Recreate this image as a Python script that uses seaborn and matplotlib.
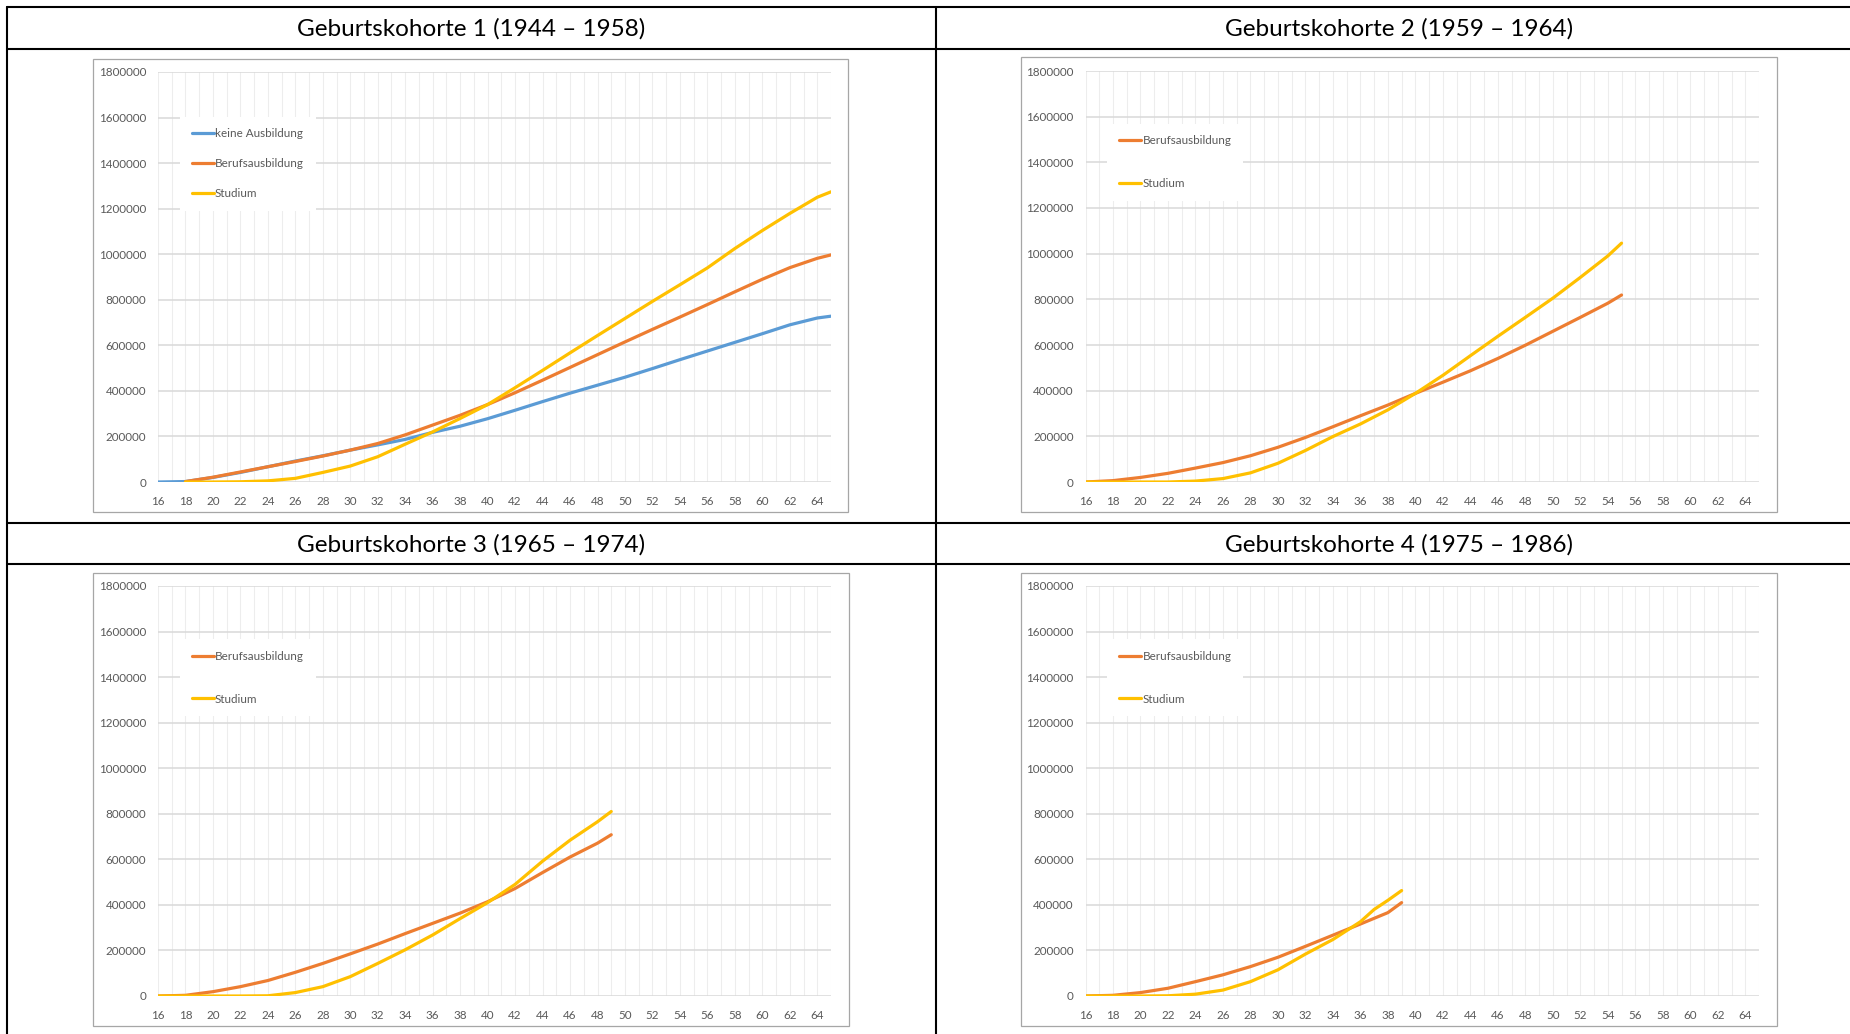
import numpy as np
import matplotlib.pyplot as plt
import matplotlib.ticker as mticker
from matplotlib.lines import Line2D
from matplotlib.patches import Rectangle
import seaborn as sns

# --- Daten ---
# Geburtskohorte 1 (1944 - 1958)
k1_ages_keine = [16, 18, 20, 22, 24, 26, 28, 30, 32, 34, 36, 38, 40, 42, 44, 46, 48, 50, 52, 54, 56, 58, 60, 62, 64, 65]
k1_keine = [0, 2000, 20000, 42000, 67000, 92000, 115000, 140000, 163000, 187000, 218000, 245000, 278000,
            315000, 353000, 390000, 425000, 460000, 498000, 537000, 575000, 613000, 651000, 690000, 720000, 728000]
k1_ages = [18, 20, 22, 24, 26, 28, 30, 32, 34, 36, 38, 40, 42, 44, 46, 48, 50, 52, 54, 56, 58, 60, 62, 64, 65]
k1_beruf = [2000, 21000, 44000, 67000, 90000, 114000, 140000, 169000, 207000, 250000, 293000, 340000, 392000,
            447000, 503000, 559000, 615000, 670000, 724000, 779000, 835000, 890000, 941000, 982000, 997000]
k1_studium = [0, 0, 1000, 5000, 16000, 42000, 70000, 111000, 166000, 220000, 279000, 340000, 414000,
              490000, 567000, 643000, 718000, 793000, 866000, 940000, 1025000, 1104000, 1179000, 1250000, 1274000]

# Geburtskohorte 2 (1959 - 1964)
k2_ages = [16, 18, 20, 22, 24, 26, 28, 30, 32, 34, 36, 38, 40, 42, 44, 46, 48, 50, 52, 54, 55]
k2_beruf = [0, 6000, 20000, 38000, 61000, 85000, 115000, 152000, 195000, 242000, 290000, 337000, 388000,
            437000, 487000, 541000, 599000, 660000, 721000, 783000, 819000]
k2_studium = [0, 0, 0, 0, 4000, 15000, 40000, 82000, 138000, 199000, 254000, 316000, 388000,
              467000, 553000, 638000, 721000, 805000, 896000, 990000, 1046000]

# Geburtskohorte 3 (1965 - 1974)
k3_ages = [16, 18, 20, 22, 24, 26, 28, 30, 32, 34, 36, 38, 40, 42, 44, 46, 48, 49]
k3_beruf = [0, 3000, 19000, 41000, 68000, 104000, 143000, 185000, 228000, 274000, 319000, 364000, 414000,
            472000, 542000, 610000, 671000, 708000]
k3_studium = [0, 0, 0, 0, 1000, 15000, 41000, 85000, 143000, 203000, 268000, 340000, 410000,
              490000, 592000, 684000, 765000, 810000]

# Geburtskohorte 4 (1975 - 1986)
k4_ages_beruf = [16, 18, 20, 22, 24, 26, 28, 30, 32, 34, 36, 38, 39]
k4_beruf = [0, 3000, 15000, 34000, 63000, 93000, 129000, 170000, 218000, 267000, 316000, 366000, 410000]
k4_ages_studium = [16, 18, 20, 22, 24, 26, 28, 30, 32, 34, 36, 37, 38, 39]
k4_studium = [0, 0, 0, 1000, 8000, 26000, 63000, 115000, 184000, 248000, 326000, 380000, 420000, 463000]

titles = ["Geburtskohorte 1 (1944 \u2013 1958)", "Geburtskohorte 2 (1959 \u2013 1964)",
          "Geburtskohorte 3 (1965 \u2013 1974)", "Geburtskohorte 4 (1975 \u2013 1986)"]

farben = {"keine Ausbildung": "#5B9BD5", "Berufsausbildung": "#ED7D31", "Studium": "#FFC000"}

sns.set_style("white")
plt.rcParams['font.family'] = ['Lato', 'DejaVu Sans']

W, H = 1850, 1034
fig = plt.figure(figsize=(W / 100, H / 100), dpi=100)


def fig_rect(x0, y0, x1, y1):
    return [x0 / W, 1 - y1 / H, (x1 - x0) / W, (y1 - y0) / H]


panels = [
    dict(title=titles[0], tc=(471, 29), frame=(93, 59, 848, 512), box=(158, 72, 831, 482),
         series=[("keine Ausbildung", k1_ages_keine, k1_keine),
                 ("Berufsausbildung", k1_ages, k1_beruf),
                 ("Studium", k1_ages, k1_studium)],
         leg_y=0.905, spacing=1.62),
    dict(title=titles[1], tc=(1399, 29), frame=(1021, 57, 1777, 512), box=(1085.5, 71, 1759, 482),
         series=[("Berufsausbildung", k2_ages, k2_beruf),
                 ("Studium", k2_ages, k2_studium)],
         leg_y=0.886, spacing=2.7),
    dict(title=titles[2], tc=(471, 545), frame=(93, 573, 849, 1026), box=(158, 586, 831, 996),
         series=[("Berufsausbildung", k3_ages, k3_beruf),
                 ("Studium", k3_ages, k3_studium)],
         leg_y=0.884, spacing=2.7),
    dict(title=titles[3], tc=(1399, 545), frame=(1021, 573, 1777, 1026), box=(1085.5, 586, 1759, 996),
         series=[("Berufsausbildung", k4_ages_beruf, k4_beruf),
                 ("Studium", k4_ages_studium, k4_studium)],
         leg_y=0.884, spacing=2.7),
]

for p in panels:
    fx0, fy0, fx1, fy1 = p["frame"]
    fig.add_artist(Rectangle((fx0 / W, 1 - fy1 / H), (fx1 - fx0) / W, (fy1 - fy0) / H,
                             transform=fig.transFigure, fill=False, ec="#A6A6A6", lw=0.9))
    ax = fig.add_axes(fig_rect(*p["box"]))
    for name, ages, vals in p["series"]:
        sns.lineplot(x=ages, y=vals, ax=ax, color=farben[name], lw=2.3, label=name)

    ax.set_xlim(16, 65)
    ax.set_ylim(0, 1800000)
    ax.set_yticks(np.arange(0, 1800001, 200000))
    ax.yaxis.set_major_formatter(mticker.StrMethodFormatter('{x:.0f}'))
    ax.set_xticks(range(16, 65, 2))
    ax.set_xticks(range(16, 66), minor=True)
    ax.set_axisbelow(True)
    ax.grid(axis='x', which='both', color='#EDEDED', lw=0.8)
    ax.grid(axis='y', which='major', color='#D9D9D9', lw=1.1)
    ax.tick_params(axis='y', length=0, pad=8.5, labelsize=8.4, labelcolor='#595959')
    ax.tick_params(axis='x', which='major', length=4, color='#D9D9D9', pad=6, labelsize=8.4, labelcolor='#595959')
    ax.tick_params(axis='x', which='minor', length=0)
    for s in ax.spines.values():
        s.set_visible(False)
    ax.set_xlabel('')
    ax.set_ylabel('')

    leg = ax.legend(loc='upper left', bbox_to_anchor=(0.024, p["leg_y"]), frameon=True, fontsize=8.4,
                    handlelength=1.9, handletextpad=0.1, borderpad=1.0, labelspacing=p["spacing"],
                    facecolor='white', edgecolor='none', framealpha=1.0, fancybox=False)
    for t in leg.get_texts():
        t.set_color('#595959')

    fig.text(p["tc"][0] / W, 1 - p["tc"][1] / H, p["title"], ha='center', va='center',
             fontsize=17.5, color='black')

# Tabellenlinien
for y in [7, 49, 523, 564]:
    fig.add_artist(Line2D([7 / W, 1], [1 - y / H, 1 - y / H], transform=fig.transFigure, color='black', lw=1.5))
for x in [7, 936]:
    fig.add_artist(Line2D([x / W, x / W], [0, 1 - 7 / H], transform=fig.transFigure, color='black', lw=1.5))

fig.savefig("out.png", dpi=100)
